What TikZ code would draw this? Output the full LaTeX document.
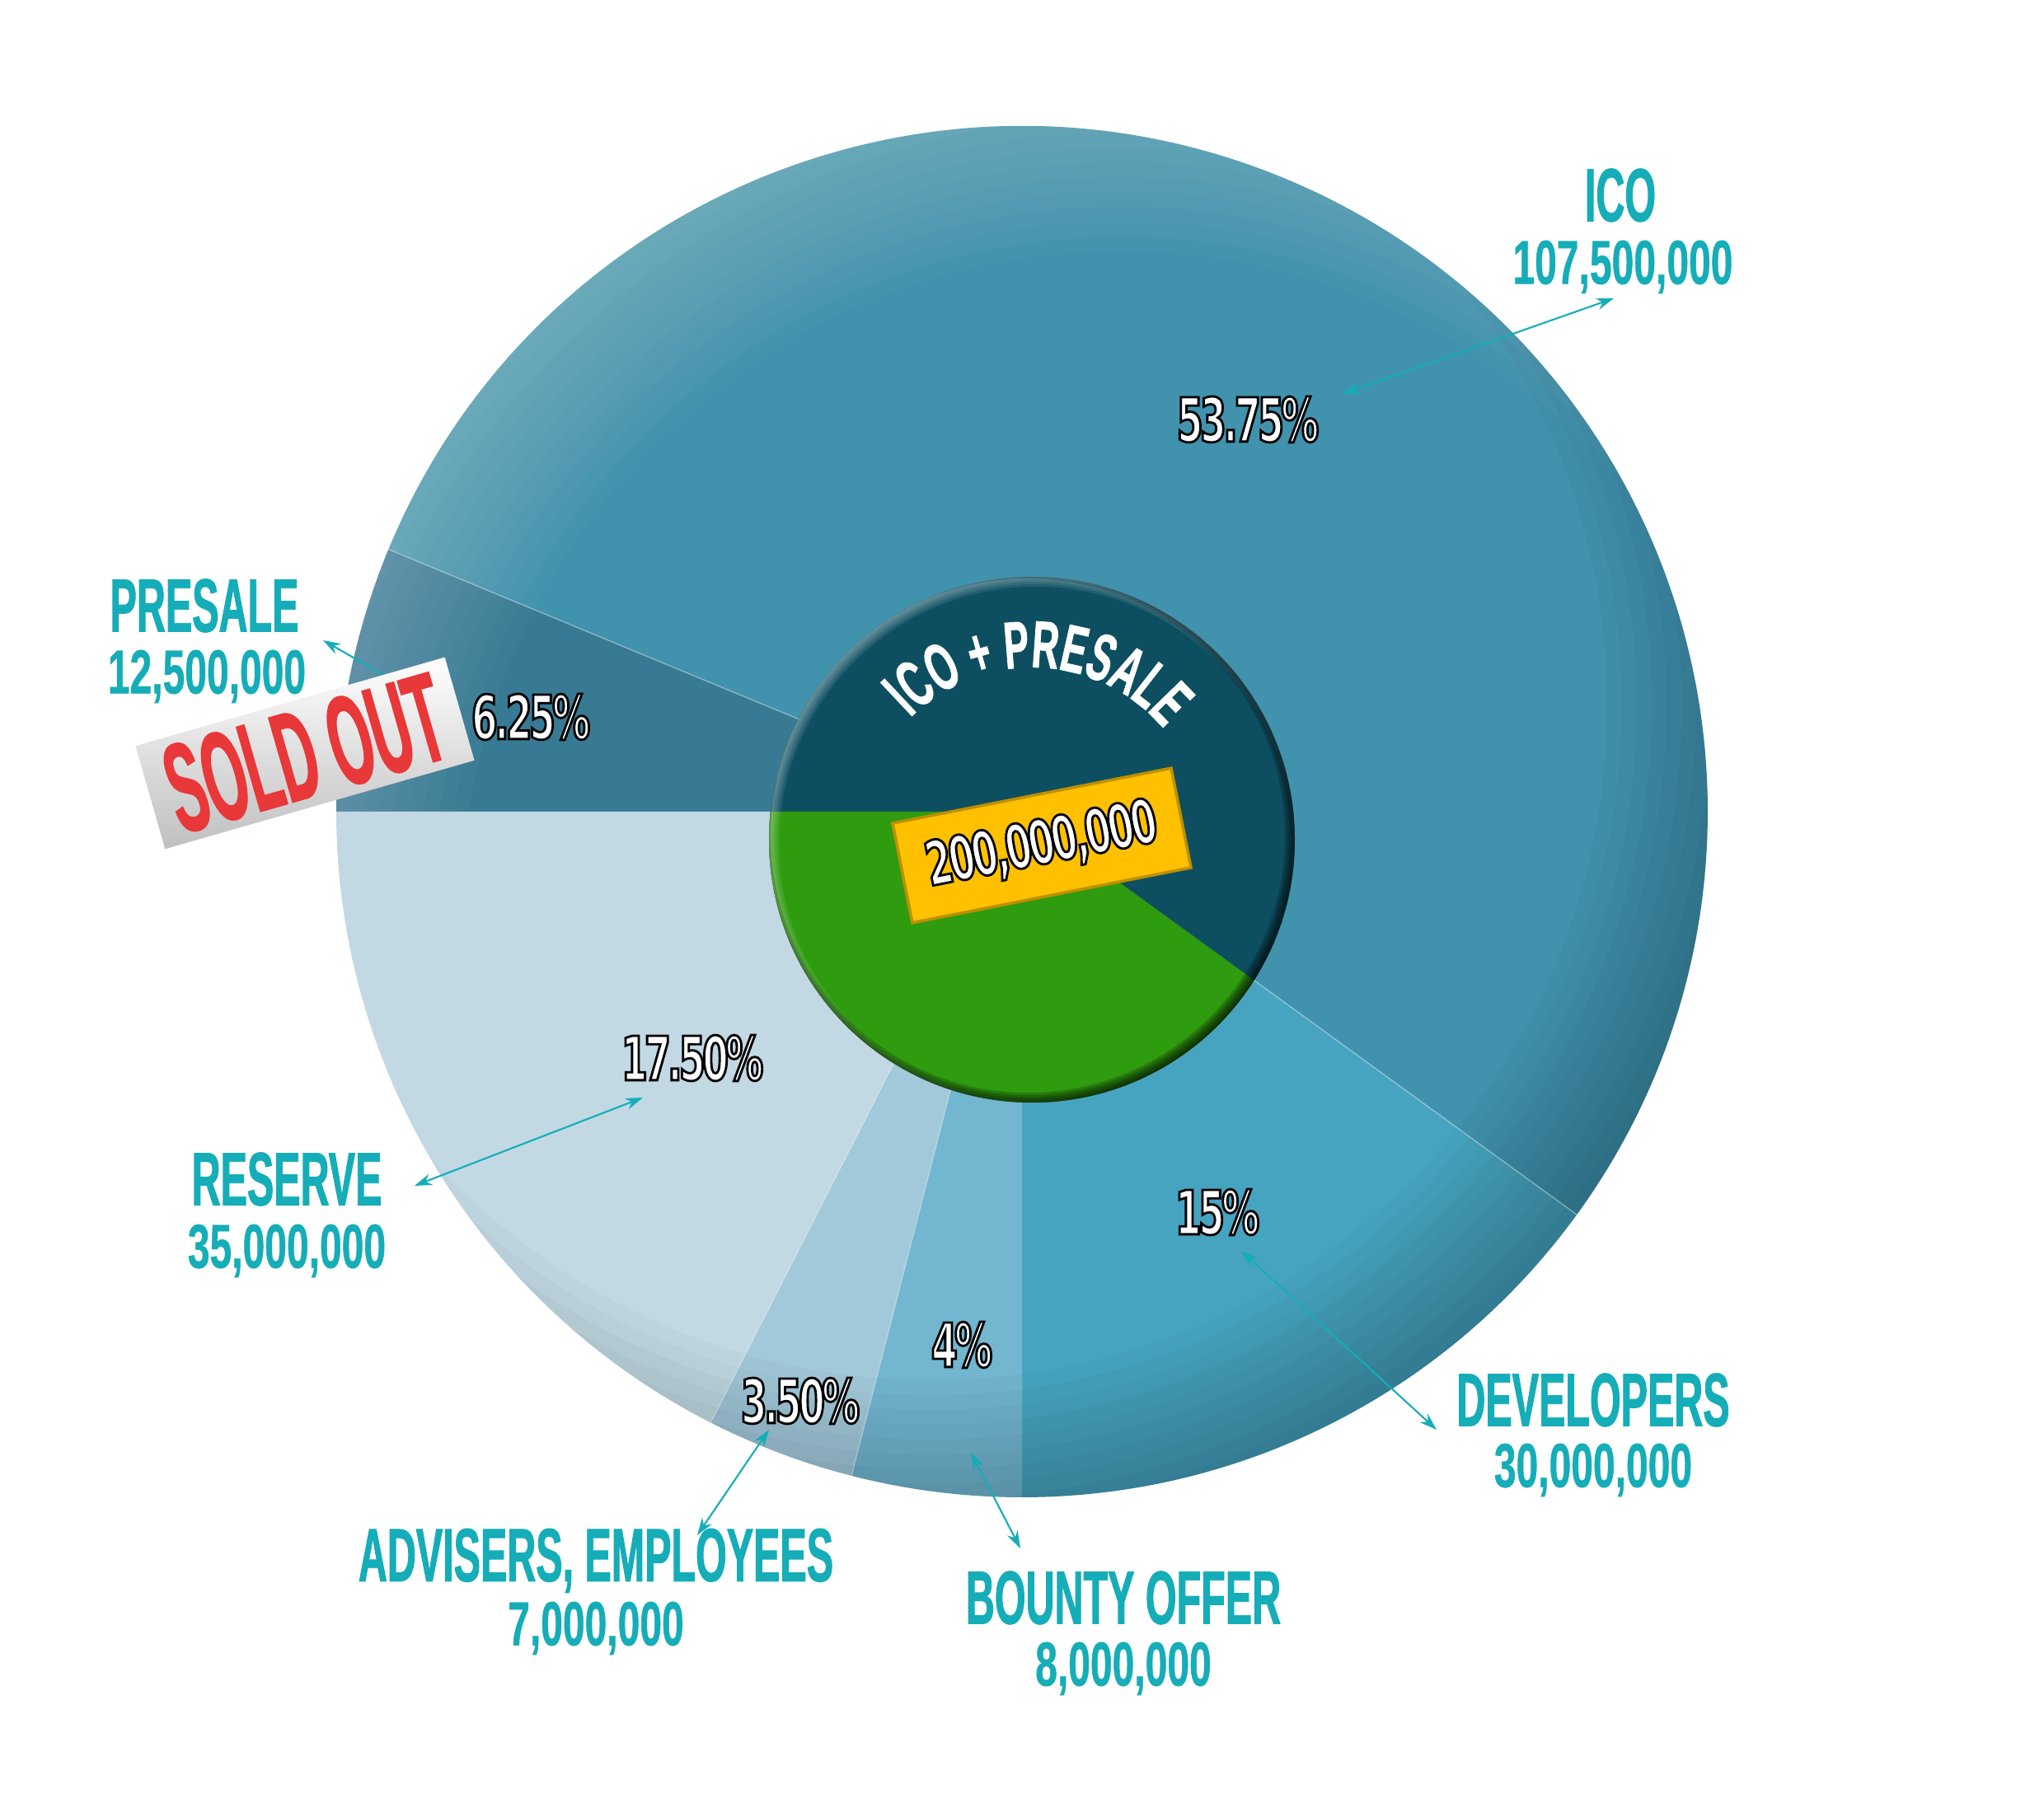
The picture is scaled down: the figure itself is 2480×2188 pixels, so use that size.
\documentclass[tikz,border=0pt]{standalone}
\usepackage{fontspec}
\usepackage{xcolor}
\usetikzlibrary{arrows.meta,decorations.text}
\newfontfamily\capsfont[FakeStretch=0.53,FakeBold=1,UprightFont={* Bold}]{Liberation Sans}
\newfontfamily\numfont[FakeStretch=0.635,FakeBold=0.6,UprightFont={* Bold}]{Liberation Sans}
\newfontfamily\pctfont[FakeStretch=0.62,LetterSpace=-5,UprightFont={* Bold}]{DejaVu Sans}
\newfontfamily\arcfont[FakeStretch=0.56,FakeBold=1,UprightFont={* Bold}]{Liberation Sans}
\newfontfamily\soldfont[FakeStretch=0.43,FakeBold=1,UprightFont={* Bold}]{Liberation Sans}
\definecolor{icoblue}{RGB}{65,146,173}
\definecolor{presaleblue}{RGB}{56,122,147}
\definecolor{devblue}{RGB}{71,164,192}
\definecolor{bountyblue}{RGB}{114,182,208}
\definecolor{adviserblue}{RGB}{162,201,218}
\definecolor{reserveblue}{RGB}{194,217,228}
\definecolor{discdark}{RGB}{13,79,97}
\definecolor{discgreen}{RGB}{47,156,16}
\definecolor{labelteal}{RGB}{21,173,183}
\definecolor{boxyellow}{RGB}{255,192,0}
\definecolor{boxedge}{RGB}{191,144,0}
\definecolor{soldred}{RGB}{232,56,58}
\newcommand{\outlined}[1]{\special{pdf:code q 0 0 0 RG 2 Tr 0.8 w}#1\special{pdf:code Q}}
\tikzset{
    caption/.style={text=labelteal, inner sep=0pt, font=\capsfont\fontsize{26}{26}\selectfont},
    amount/.style={text=labelteal, inner sep=0pt, font=\numfont\fontsize{21.5}{22}\selectfont},
    percent/.style={text=white, inner sep=0pt, font=\pctfont\fontsize{21}{22}\selectfont},
    link/.style={labelteal, line width=0.6pt, {Stealth[length=6pt,width=4pt]}-{Stealth[length=6pt,width=4pt]}}
}

\begin{document}
\begin{tikzpicture}[x=0.01cm, y=0.01cm]
    \useasboundingbox (0,0) rectangle (2480,2188);
    \coordinate (pie) at (1240,1203);
    \coordinate (disc) at (1252,1169);
    \coordinate (glow) at (1360,1083);
    \coordinate (gloom) at (1130,1333);

    % Draw slices
    \fill[icoblue] (pie) -- ++(157.5:832) arc (157.5:-36:832) -- cycle;
    \fill[presaleblue] (pie) -- ++(180:832) arc (180:157.5:832) -- cycle;
    \fill[devblue] (pie) -- ++(-36:832) arc (-36:-90:832) -- cycle;
    \fill[bountyblue] (pie) -- ++(-90:832) arc (-90:-104.4:832) -- cycle;
    \fill[adviserblue] (pie) -- ++(-104.4:832) arc (-104.4:-117:832) -- cycle;
    \fill[reserveblue] (pie) -- ++(-117:832) arc (-117:-180:832) -- cycle;

    % Light rim on the upper left
    \begin{scope}
        \clip (pie) -- ++(180:832) arc (180:-36:832) -- cycle;
        \foreach \r in {800,818,...,1000}
            \fill[white, opacity=0.024, even odd rule] (glow) circle (\r) (glow) circle (1300);
    \end{scope}
    % Dark rim on the lower right
    \begin{scope}
        \clip (pie) circle (832);
        \foreach \r in {820,838,...,1000}
            \fill[black, opacity=0.024, even odd rule] (gloom) circle (\r) (gloom) circle (1300);
    \end{scope}

    % Slice borders
    \draw[white, opacity=0.35, line width=0.4pt] (pie) -- ++(157.5:832);
    \draw[white, opacity=0.35, line width=0.4pt] (pie) -- ++(-36:832);
    \draw[white, opacity=0.25, line width=0.4pt] (pie) -- ++(-104.4:832);
    \draw[white, opacity=0.25, line width=0.4pt] (pie) -- ++(-117:832);

    % Arrows
    \coordinate (icoIn) at (1629,1710);
    \coordinate (icoOut) at (1958,1826);
    \coordinate (presaleIn) at (537,1328);
    \coordinate (presaleOut) at (392,1411);
    \coordinate (devIn) at (1506,670);
    \coordinate (devOut) at (1743,453);
    \coordinate (bountyIn) at (1178,425);
    \coordinate (bountyOut) at (1238,309);
    \coordinate (adviserIn) at (933,453);
    \coordinate (adviserOut) at (846,325);
    \coordinate (reserveIn) at (780,856);
    \coordinate (reserveOut) at (503,749);
    \draw[link] (icoIn) -- (icoOut);
    \draw[link] (presaleIn) -- (presaleOut);
    \draw[link] (devIn) -- (devOut);
    \draw[link] (bountyIn) -- (bountyOut);
    \draw[link] (adviserIn) -- (adviserOut);
    \draw[link] (reserveIn) -- (reserveOut);

    % Center disc
    \fill[discdark] (disc) circle (319);
    \begin{scope}
        \clip (disc) circle (319);
        \fill[discgreen] (pie) -- ++(-36:900) arc (-36:-180:900) -- cycle;
        \foreach \r in {312,315,...,327}
            \fill[white, opacity=0.09, even odd rule] ([shift={(5,-5)}]disc) circle (\r) (disc) circle (400);
        \foreach \r in {312,315,...,327}
            \fill[black, opacity=0.2, even odd rule] ([shift={(-5,5)}]disc) circle (\r) (disc) circle (400);
    \end{scope}
    \path[decorate, decoration={text along path, text align=center,
        text={|\arcfont\fontsize{23}{23}\selectfont\color{white}|ICO + PRESALE}}]
        (disc) ++(140:209) arc (140:35:209);

    % Labels
    \node[caption] (icoName) at (1966,1951) {ICO};
    \node[amount] (icoSum) at (1969,1864) {107,500,000};
    \node[caption] (presaleName) at (248,1453) {PRESALE};
    \node[amount] (presaleSum) at (251,1367) {12,500,000};
    \node[caption] (reserveName) at (348,757) {RESERVE};
    \node[amount] (reserveSum) at (348,670) {35,000,000};
    \node[caption] (adviserName) at (723,294) {ADVISERS, EMPLOYEES};
    \node[amount] (adviserSum) at (723,212) {7,000,000};
    \node[caption] (bountyName) at (1363,249) {BOUNTY OFFER};
    \node[amount] (bountySum) at (1363,163) {8,000,000};
    \node[caption] (devName) at (1933,489) {DEVELOPERS};
    \node[amount] (devSum) at (1933,404) {30,000,000};

    % Percentages
    \node[percent] (icoPart) at (1514,1679) {\outlined{53.75\%}};
    \node[percent] (presalePart) at (644,1318) {\outlined{6.25\%}};
    \node[percent] (reservePart) at (840,904) {\outlined{17.50\%}};
    \node[percent] (devPart) at (1477,717) {\outlined{15\%}};
    \node[percent] (bountyPart) at (1167,556) {\outlined{4\%}};
    \node[percent] (adviserPart) at (971,488) {\outlined{3.50\%}};

    % Total box
    \node[draw=boxedge, fill=boxyellow, line width=1pt, rotate=11.2, minimum width=98pt, minimum height=35pt, inner sep=0pt, percent] (total) at (1264,1162) {\outlined{200,000,000}};

    % Sold out sticker
    \node[top color=white, middle color=black!8, bottom color=black!25, rotate=16, minimum width=111pt, minimum height=37pt, inner sep=0pt, text=soldred, font=\soldfont\fontsize{44}{44}\selectfont] (sold) at (370,1274) {SOLD OUT};
\end{tikzpicture}
\end{document}
